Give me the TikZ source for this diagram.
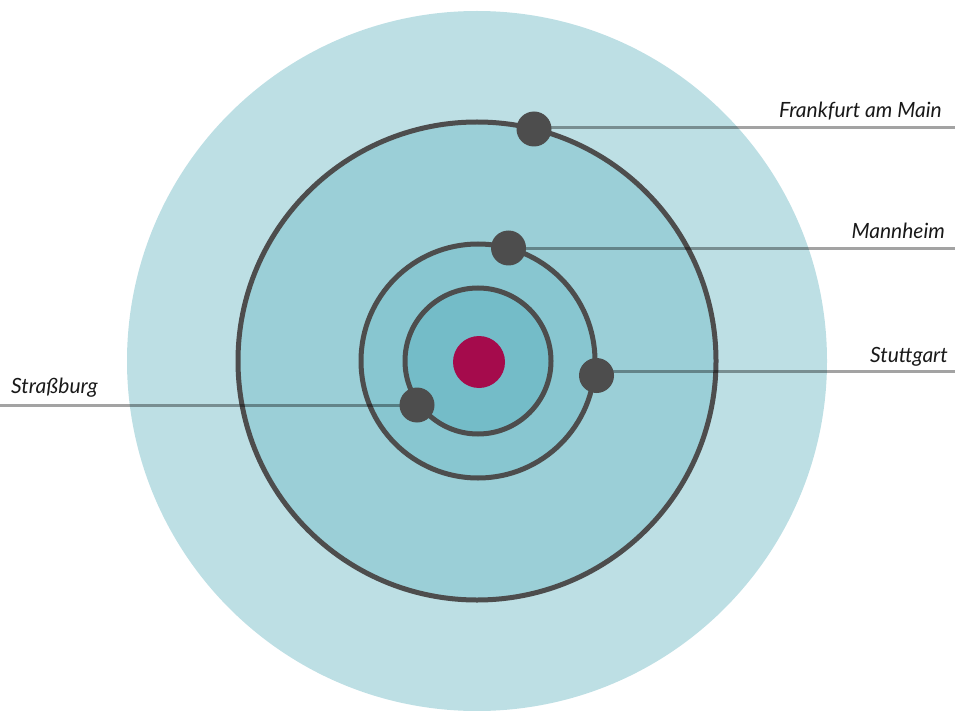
\documentclass[tikz,border=0pt]{standalone}
\usepackage{fontspec}
\setmainfont{Lato}
\definecolor{outerc}{HTML}{BDDFE4}
\definecolor{ring1}{HTML}{9BCFD7}
\definecolor{ring2}{HTML}{88C6D0}
\definecolor{ring3}{HTML}{74BCC8}
\definecolor{orbitc}{HTML}{4D4D4D}
\definecolor{corec}{HTML}{A50B4C}
\tikzset{
  orbit/.style={draw=orbitc, line width=5pt},
  city/.style={circle, fill=orbitc, minimum size=35pt, inner sep=0pt},
  leader/.style={draw=black, draw opacity=0.36, line width=3pt},
  lbl/.style={font=\fontsize{21}{24}\selectfont\itshape, inner sep=0pt, text=black!90}
}
\begin{document}
\begin{tikzpicture}[x=1pt,y=-1pt]
\useasboundingbox (0,0) rectangle (955,711);
\begin{scope}
\clip (0,0) rectangle (955,711);
\fill[outerc] (477,361) circle[radius=350];
\end{scope}
\path[orbit, fill=ring1] (477,361) circle[radius=239];
\path[orbit, fill=ring2] (478,361) circle[radius=117];
\path[orbit, fill=ring3] (478,361) circle[radius=73];
\node[circle, fill=corec, minimum size=52pt, inner sep=0pt] (core) at (479,362) {};
% city positions
\coordinate (ffmC) at (534,129);
\coordinate (mhmC) at (508.5,248);
\coordinate (stgC) at (596.5,375.5);
\coordinate (strC) at (417,405);
\coordinate (ffmE) at (955,127.5);
\coordinate (mhmE) at (955,248.3);
\coordinate (stgE) at (955,371.7);
\coordinate (strE) at (0,405);
\draw[leader] (ffmC |- ffmE) -- (ffmE);
\draw[leader] (mhmC |- mhmE) -- (mhmE);
\draw[leader] (stgC |- stgE) -- (stgE);
\draw[leader] (strC |- strE) -- (strE);
\node[city] (ffm) at (ffmC) {};
\node[city] (mhm) at (mhmC) {};
\node[city] (stg) at (stgC) {};
\node[city] (str) at (strC) {};
\node[lbl, anchor=base east] (tffm) at (942,118) {Frankfurt am Main};
\node[lbl, anchor=base east] (tmhm) at (945,239) {Mannheim};
\node[lbl, anchor=base east] (tstg) at (948,362) {Stuttgart};
\node[lbl, anchor=base west] (tstr) at (11,393) {Straßburg};
\end{tikzpicture}
\end{document}
